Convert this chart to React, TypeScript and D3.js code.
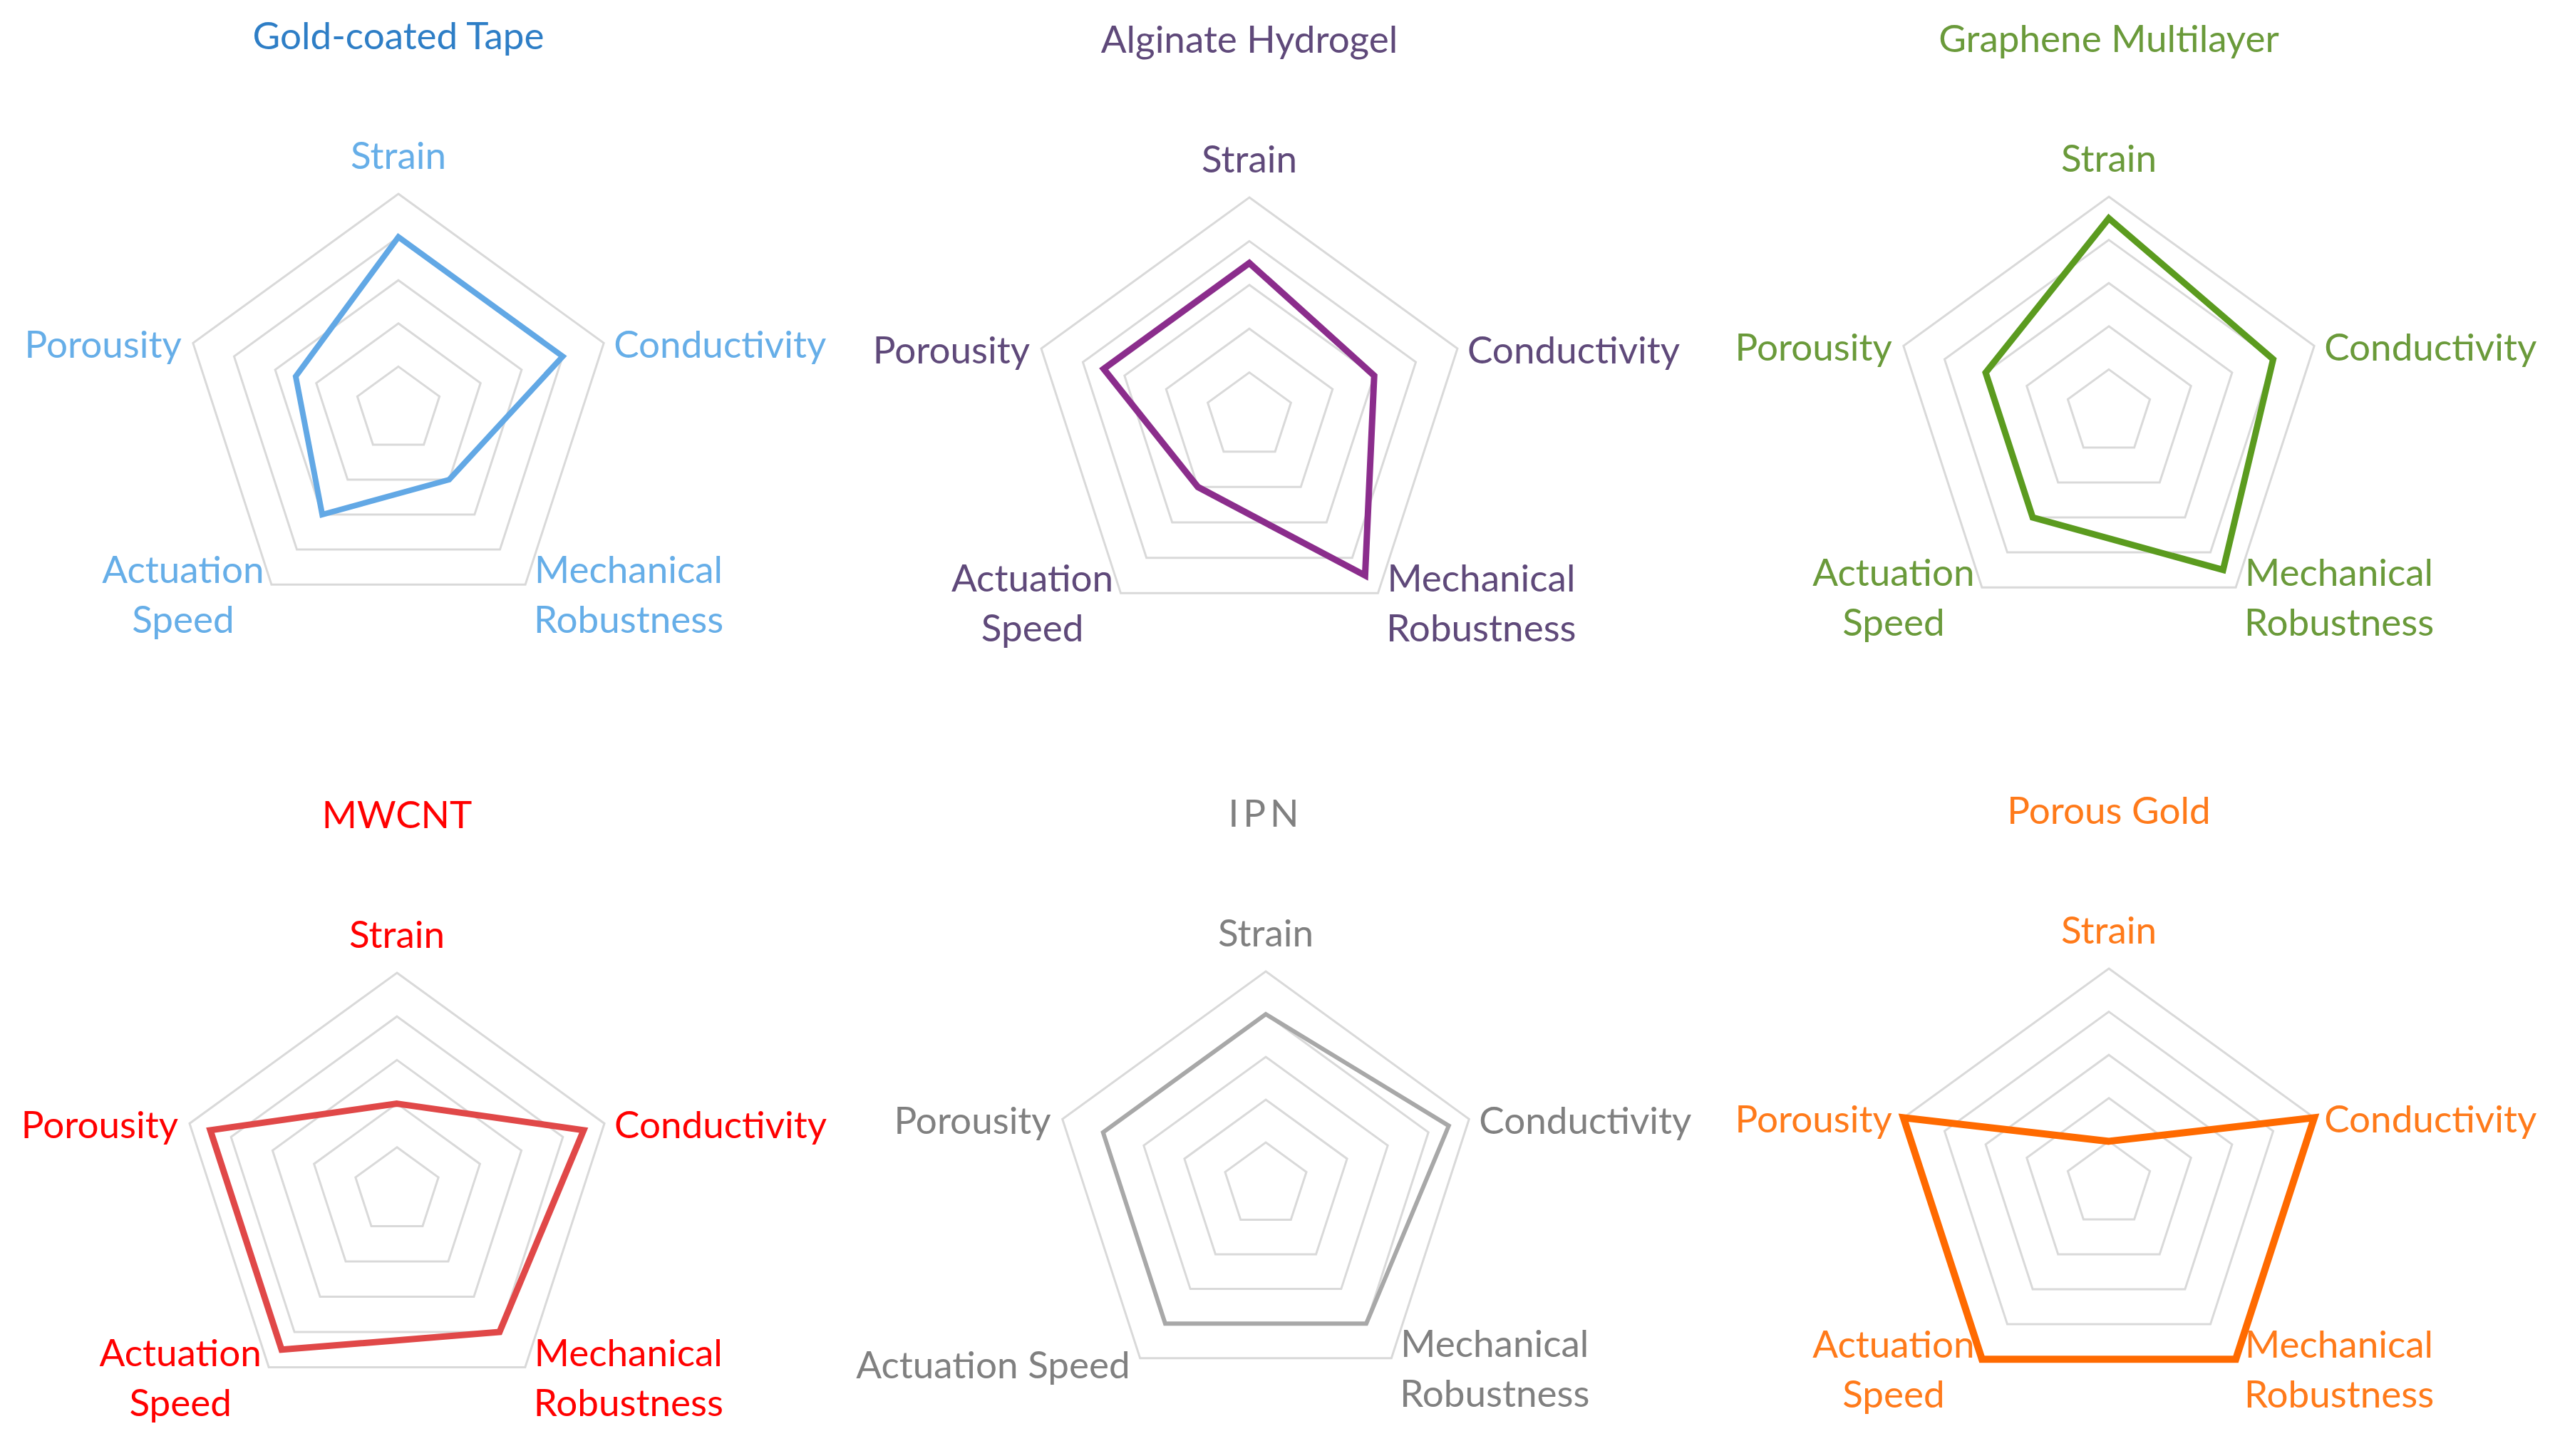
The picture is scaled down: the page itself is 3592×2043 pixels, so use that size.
import React from 'react';
import * as d3 from 'd3';

// axes of every radar, clockwise from the top
const axes = ['Strain', 'Conductivity', 'Mechanical Robustness', 'Actuation Speed', 'Porousity'];
const materials = ['Gold-coated Tape', 'Alginate Hydrogel', 'Graphene Multilayer', 'MWCNT', 'IPN', 'Porous Gold'];
const gridLevels = [1, 2, 3, 4, 5];

// scores, same order as axes
const goldTape = [4, 4, 2, 3, 2.5];
const alginate = [3.5, 3, 4.5, 2, 3.5];
const graphene = [4.5, 4, 4.5, 3, 3];
const mwcnt = [2, 4.5, 4, 4.5, 4.5];
const ipn = [4, 4.5, 4, 4, 4];
const porousGold = [1, 5, 5, 5, 5];

const seriesValues = [goldTape, alginate, graphene, mwcnt, ipn, porousGold];

const W = 3592;
const H = 2043;
const FONT = 'Lato, "Open Sans", sans-serif';

// panel placement and look
const panels = [
  { cx: 559, cy: 575, r: 303, title: '#2E7EC6', text: '#66AEE8', line: '#62A8E5', width: 8 },
  { cx: 1753, cy: 584, r: 307, title: '#5F497A', text: '#5F497A', line: '#8B2D8C', width: 9 },
  { cx: 2959, cy: 579, r: 303, title: '#6A9A3A', text: '#6A9A3A', line: '#5B9B1F', width: 9 },
  { cx: 557, cy: 1671, r: 306, title: '#FF0000', text: '#FF0000', line: '#E04848', width: 9 },
  { cx: 1776, cy: 1663, r: 300, title: '#808080', text: '#808080', line: '#A8A8A8', width: 6, oneLineSpeed: true, spacing: 6 },
  { cx: 2959, cy: 1662, r: 303, title: '#FF7A1A', text: '#FF7A1A', line: '#FF6A00', width: 10 },
];

const angle = (i: number) => (i * 2 * Math.PI) / axes.length;

function Radar({ p, values, name }: any) {
  const rScale = d3.scaleLinear().domain([0, 5]).range([0, p.r]);
  const radial = d3
    .lineRadial<number>()
    .angle((_, i) => angle(i))
    .radius((d) => rScale(d))
    .curve(d3.curveLinearClosed);

  const vertex = (i: number) => {
    const a = angle(i);
    return [rScale(5) * Math.sin(a), -rScale(5) * Math.cos(a)];
  };

  const fs = 53;
  const labels: any[] = [];
  axes.forEach((ax, i) => {
    const [vx, vy] = vertex(i);
    if (i === 0) {
      labels.push(<text key={ax} x={vx} y={vy - 56} textAnchor="middle" dominantBaseline="central">{ax}</text>);
    } else if (i === 1) {
      labels.push(<text key={ax} x={vx + 14} y={vy} textAnchor="start" dominantBaseline="central">{ax}</text>);
    } else if (i === 4) {
      labels.push(<text key={ax} x={vx - 16} y={vy} textAnchor="end" dominantBaseline="central">{ax}</text>);
    } else if (i === 3 && p.oneLineSpeed) {
      labels.push(<text key={ax} x={vx - 14} y={vy + 8} textAnchor="end" dominantBaseline="central">{ax}</text>);
    } else {
      const words = ax.split(' ');
      const x = i === 2 ? vx + 145 : vx - 124;
      labels.push(
        <text key={ax} textAnchor="middle" dominantBaseline="central">
          <tspan x={x} y={vy - 23}>{words[0]}</tspan>
          <tspan x={x} y={vy + 47}>{words[1]}</tspan>
        </text>
      );
    }
  });

  return (
    <g transform={`translate(${p.cx},${p.cy})`} fontFamily={FONT}>
      <text
        x={0}
        y={-p.r - 224}
        textAnchor="middle"
        dominantBaseline="central"
        fontSize={fs}
        fill={p.title}
        letterSpacing={p.spacing || 0}
      >
        {name}
      </text>
      {gridLevels.map((lv) => (
        <path key={lv} d={radial(axes.map(() => lv)) || ''} fill="none" stroke="#D9D9D9" strokeWidth={3} />
      ))}
      <path d={radial(values) || ''} fill="none" stroke={p.line} strokeWidth={p.width} strokeLinejoin="miter" />
      <g fontSize={fs} fill={p.text}>{labels}</g>
    </g>
  );
}

export default function App() {
  return (
    <svg
      width={W}
      height={H}
      viewBox={`0 0 ${W} ${H}`}
      style={{ position: 'absolute', left: 0, top: 0, background: '#fff' }}
    >
      <rect width={W} height={H} fill="#fff" />
      {panels.map((p, k) => (
        <Radar key={materials[k]} p={p} values={seriesValues[k]} name={materials[k]} />
      ))}
    </svg>
  );
}
